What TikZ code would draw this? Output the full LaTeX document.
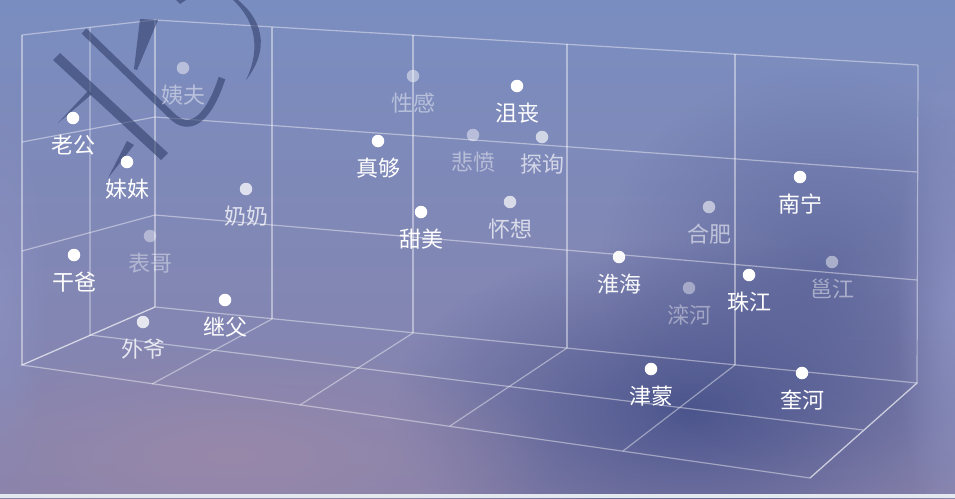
\documentclass[tikz,border=0pt]{standalone}
\usepackage{fontspec}
\setmainfont{Noto Sans CJK SC}
\usetikzlibrary{positioning,fadings}

\definecolor{bgtop}{HTML}{7A8DC0}
\definecolor{bgmid}{HTML}{6E7EB1}
\definecolor{bgbottom}{HTML}{8882AB}
\definecolor{navy}{HTML}{46518A}
\definecolor{mauve}{HTML}{9A89AA}
\definecolor{lavender}{HTML}{8C93C4}
\definecolor{inkblue}{HTML}{34426F}
\definecolor{strip}{HTML}{E4E8EF}

\tikzfading[name=soft, inner color=transparent!0, outer color=transparent!100]

\begin{document}
\begin{tikzpicture}[x=1pt,y=-1pt]

	\tikzstyle grid lines=[white,opacity=0.42,line width=1.2pt];
	\tikzstyle dot=[circle,fill=white,inner sep=0pt,minimum size=12.5pt];
	\tikzstyle word=[text=white,inner sep=0pt,font=\fontsize{22}{22}\selectfont];
	\tikzstyle ink=[fill=inkblue,opacity=0.62];
	\tikzstyle blob=[path fading=soft];

	\useasboundingbox (0,0) rectangle (955,498);

	% background
	\shade[top color=bgtop,middle color=bgmid,bottom color=bgbottom] (0,0) rectangle (955,498);
	\fill[navy,blob,opacity=0.9] (690,410) ellipse (300pt and 170pt);
	\fill[navy,blob,opacity=0.5] (820,270) ellipse (220pt and 200pt);
	\fill[mauve,blob,opacity=0.9] (230,455) ellipse (330pt and 110pt);
	\fill[lavender,blob,opacity=0.8] (955,300) ellipse (60pt and 260pt);
	\fill[lavender,blob,opacity=0.6] (0,300) ellipse (50pt and 200pt);
	\fill[strip] (0,494) rectangle (955,498);

	% box
	\foreach \i/\xt/\yt/\xb/\yb/\xf/\yf in {0/155/20/155/307/22/365,1/272/27/272/319/152/384,2/413/35/413/333/300/405,3/567/44/567/348/450/426,4/735/54/735/365/623/451,5/918/65/917/383/810/478}
	{
		\coordinate (t\i) at (\xt,\yt);
		\coordinate (b\i) at (\xb,\yb);
		\coordinate (f\i) at (\xf,\yf);
	}
	\coordinate (lt) at (22,35);
	\coordinate (mt) at (90,27);
	\coordinate (mb) at (90,335);
	\coordinate (rm) at (863,430);

	\foreach \i in {0,...,5}
	{
		\draw[grid lines] (t\i) -- (b\i);
		\draw[grid lines] (b\i) -- (f\i);
	}
	\draw[grid lines] (lt) -- (t0) -- (t5);
	\draw[grid lines] (22,142) -- (155,117) -- (917,172);
	\draw[grid lines] (22,251) -- (155,215) -- (917,280);
	\draw[grid lines] (f0) -- (b0) -- (b5) -- (f5) -- cycle;
	\draw[grid lines] (lt) -- (f0);
	\draw[grid lines] (mt) -- (mb) -- (rm);

	% watermark
	\fill[ink] (53,60) -- (60,53) -- (168,153) -- (161,160) -- cycle;
	\draw[inkblue,opacity=0.62,line width=7pt] (84,31) -- (172,116) .. controls (186,130) and (206,127) .. (222,78);
	\fill[ink] (140,19) -- (158,20) -- (137,70) -- (134,69) -- cycle;
	\fill[ink] (88,91) -- (92,94) -- (58,123) -- cycle;
	\fill[ink] (127,141) -- (134,145) -- (108,178) -- cycle;
	\fill[ink] (238,0) .. controls (268,25) and (266,55) .. (246,80) .. controls (258,55) and (260,25) .. (233,0) -- cycle;
	\fill[ink] (176,0) -- (186,0) -- (180,4) -- cycle;

	% points
	\foreach \x/\y/\n/\t/\o in {183/68/yifu/姨夫/0.45,73/118/laogong/老公/1,127/162/meimei/妹妹/1,246/189/nainai/奶奶/0.75,150/236/biaoge/表哥/0.4,74/255/ganba/干爸/1,143/322/waiye/外爷/0.8,225/300/jifu/继父/1,413/76/xinggan/性感/0.45,517/86/jusang/沮丧/1,378/141/zhengou/真够/1,473/135/beifen/悲愤/0.45,542/137/tanxun/探询/0.65,421/212/tianmei/甜美/1,510/202/huaixiang/怀想/0.7,709/207/hefei/合肥/0.55,800/177/nanning/南宁/1,619/257/huaihai/淮海/0.95,689/288/luanhe/滦河/0.4,749/275/zhujiang/珠江/1,832/262/yongjiang/邕江/0.45,651/369/jinmeng/津蒙/1,802/373/kuihe/奎河/1}
	{
		\node[dot,opacity=\o] (\n) at (\x,\y) {};
		\node[word,opacity=\o,below=10pt of \n] (\n-text) {\t};
	}

\end{tikzpicture}
\end{document}
